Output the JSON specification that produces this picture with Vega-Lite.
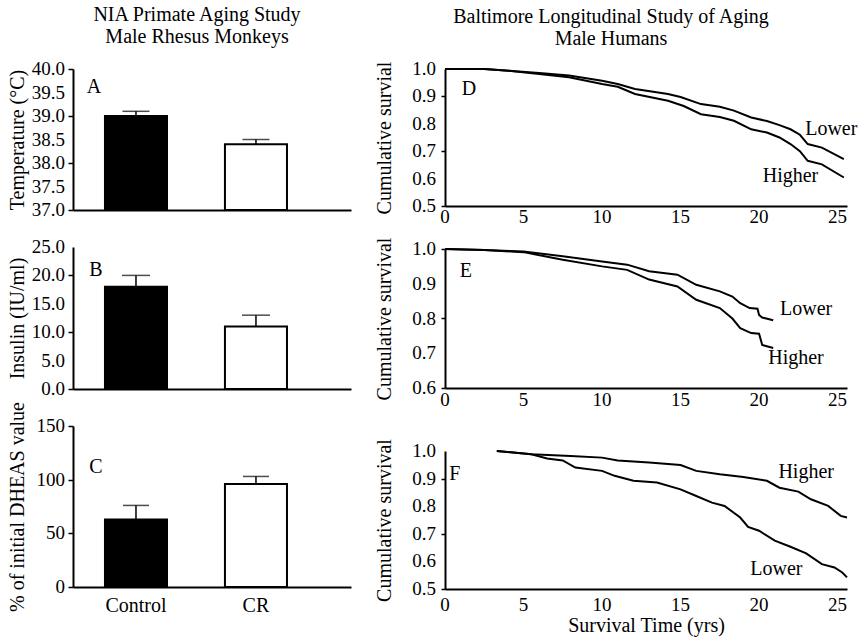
{
  "$schema": "https://vega.github.io/schema/vega-lite/v6.json",
  "padding": {"left": 7, "top": 5, "right": 5, "bottom": 5},
  "background": "white",
  "config": {
    "font": "Liberation Serif",
    "view": {"stroke": null},
    "axis": {"titleFont": "Liberation Serif", "titleFontSize": 20, "titleFontWeight": "normal", "titleColor": "#000", "domainColor": "#000", "domainWidth": 2, "tickColor": "#000", "tickWidth": 1.5, "grid": false, "labels": false},
    "title": {"font": "Liberation Serif", "fontSize": 20, "fontWeight": "normal", "color": "#000"},
    "text": {"font": "Liberation Serif", "fontSize": 20, "color": "#000"}
  },
  "datasets": {
    "barsA": [{"group": "Control", "value": 39.0, "upper": 39.1}, {"group": "CR", "value": 38.4, "upper": 38.5}],
    "barsB": [{"group": "Control", "value": 18.0, "upper": 20.0}, {"group": "CR", "value": 11.0, "upper": 13.0}],
    "barsC": [{"group": "Control", "value": 63, "upper": 76}, {"group": "CR", "value": 96, "upper": 103}],
    "ticksA": [{"v": 37}, {"v": 37.5}, {"v": 38}, {"v": 38.5}, {"v": 39}, {"v": 39.5}, {"v": 40}],
    "ticksB": [{"v": 0}, {"v": 5}, {"v": 10}, {"v": 15}, {"v": 20}, {"v": 25}],
    "ticksC": [{"v": 0}, {"v": 50}, {"v": 100}, {"v": 150}],
    "ticksT": [{"v": 0}, {"v": 5}, {"v": 10}, {"v": 15}, {"v": 20}, {"v": 25}],
    "ticksS5": [{"v": 0.5}, {"v": 0.6}, {"v": 0.7}, {"v": 0.8}, {"v": 0.9}, {"v": 1.0}],
    "ticksS6": [{"v": 0.6}, {"v": 0.7}, {"v": 0.8}, {"v": 0.9}, {"v": 1.0}],
    "linesD": [
      {"grp": "Lower", "t": 0, "s": 1.0}, {"grp": "Lower", "t": 2.5, "s": 1.0}, {"grp": "Lower", "t": 4.06, "s": 0.994}, {"grp": "Lower", "t": 6, "s": 0.985}, {"grp": "Lower", "t": 7.9, "s": 0.976}, {"grp": "Lower", "t": 10, "s": 0.957}, {"grp": "Lower", "t": 11, "s": 0.945}, {"grp": "Lower", "t": 12.1, "s": 0.927}, {"grp": "Lower", "t": 14.2, "s": 0.909}, {"grp": "Lower", "t": 15, "s": 0.898}, {"grp": "Lower", "t": 16.3, "s": 0.872}, {"grp": "Lower", "t": 17.5, "s": 0.862}, {"grp": "Lower", "t": 18.4, "s": 0.848}, {"grp": "Lower", "t": 19.5, "s": 0.823}, {"grp": "Lower", "t": 20.5, "s": 0.81}, {"grp": "Lower", "t": 21.3, "s": 0.795}, {"grp": "Lower", "t": 22.0, "s": 0.78}, {"grp": "Lower", "t": 22.6, "s": 0.76}, {"grp": "Lower", "t": 23.1, "s": 0.726}, {"grp": "Lower", "t": 24.0, "s": 0.713}, {"grp": "Lower", "t": 25.4, "s": 0.671},
      {"grp": "Higher", "t": 0, "s": 1.0}, {"grp": "Higher", "t": 2.5, "s": 1.0}, {"grp": "Higher", "t": 4.06, "s": 0.994}, {"grp": "Higher", "t": 6, "s": 0.982}, {"grp": "Higher", "t": 7.9, "s": 0.97}, {"grp": "Higher", "t": 10, "s": 0.945}, {"grp": "Higher", "t": 11, "s": 0.935}, {"grp": "Higher", "t": 12.1, "s": 0.909}, {"grp": "Higher", "t": 14.2, "s": 0.884}, {"grp": "Higher", "t": 15.2, "s": 0.865}, {"grp": "Higher", "t": 16.3, "s": 0.835}, {"grp": "Higher", "t": 17.5, "s": 0.825}, {"grp": "Higher", "t": 18.4, "s": 0.811}, {"grp": "Higher", "t": 19.5, "s": 0.78}, {"grp": "Higher", "t": 20.5, "s": 0.768}, {"grp": "Higher", "t": 21.3, "s": 0.75}, {"grp": "Higher", "t": 22.0, "s": 0.726}, {"grp": "Higher", "t": 22.6, "s": 0.7}, {"grp": "Higher", "t": 23.1, "s": 0.665}, {"grp": "Higher", "t": 24.0, "s": 0.652}, {"grp": "Higher", "t": 25.4, "s": 0.604}
    ],
    "linesE": [
      {"grp": "Lower", "t": 0, "s": 1.0}, {"grp": "Lower", "t": 2.5, "s": 0.997}, {"grp": "Lower", "t": 5, "s": 0.993}, {"grp": "Lower", "t": 7.5, "s": 0.979}, {"grp": "Lower", "t": 10, "s": 0.964}, {"grp": "Lower", "t": 11.6, "s": 0.955}, {"grp": "Lower", "t": 13, "s": 0.936}, {"grp": "Lower", "t": 14.8, "s": 0.926}, {"grp": "Lower", "t": 16, "s": 0.897}, {"grp": "Lower", "t": 17.5, "s": 0.878}, {"grp": "Lower", "t": 18.3, "s": 0.863}, {"grp": "Lower", "t": 18.8, "s": 0.844}, {"grp": "Lower", "t": 19.4, "s": 0.83}, {"grp": "Lower", "t": 19.9, "s": 0.828}, {"grp": "Lower", "t": 20.0, "s": 0.81}, {"grp": "Lower", "t": 20.2, "s": 0.803}, {"grp": "Lower", "t": 20.9, "s": 0.795},
      {"grp": "Higher", "t": 0, "s": 1.0}, {"grp": "Higher", "t": 2.5, "s": 0.997}, {"grp": "Higher", "t": 5, "s": 0.991}, {"grp": "Higher", "t": 7.5, "s": 0.969}, {"grp": "Higher", "t": 10, "s": 0.95}, {"grp": "Higher", "t": 11.6, "s": 0.94}, {"grp": "Higher", "t": 13, "s": 0.912}, {"grp": "Higher", "t": 14.8, "s": 0.892}, {"grp": "Higher", "t": 16, "s": 0.854}, {"grp": "Higher", "t": 17.5, "s": 0.83}, {"grp": "Higher", "t": 18.3, "s": 0.8}, {"grp": "Higher", "t": 18.8, "s": 0.772}, {"grp": "Higher", "t": 19.5, "s": 0.758}, {"grp": "Higher", "t": 20.0, "s": 0.756}, {"grp": "Higher", "t": 20.1, "s": 0.74}, {"grp": "Higher", "t": 20.2, "s": 0.724}, {"grp": "Higher", "t": 20.9, "s": 0.715}
    ],
    "linesF": [
      {"grp": "Higher", "t": 3.3, "s": 1.0}, {"grp": "Higher", "t": 5.5, "s": 0.988}, {"grp": "Higher", "t": 8, "s": 0.982}, {"grp": "Higher", "t": 10, "s": 0.976}, {"grp": "Higher", "t": 11, "s": 0.966}, {"grp": "Higher", "t": 13, "s": 0.958}, {"grp": "Higher", "t": 15, "s": 0.949}, {"grp": "Higher", "t": 16, "s": 0.928}, {"grp": "Higher", "t": 17.5, "s": 0.916}, {"grp": "Higher", "t": 19, "s": 0.906}, {"grp": "Higher", "t": 20.5, "s": 0.892}, {"grp": "Higher", "t": 21.3, "s": 0.867}, {"grp": "Higher", "t": 22.5, "s": 0.853}, {"grp": "Higher", "t": 23.3, "s": 0.825}, {"grp": "Higher", "t": 24.4, "s": 0.801}, {"grp": "Higher", "t": 25.2, "s": 0.765}, {"grp": "Higher", "t": 25.6, "s": 0.759},
      {"grp": "Lower", "t": 3.3, "s": 1.0}, {"grp": "Lower", "t": 5.5, "s": 0.988}, {"grp": "Lower", "t": 6.5, "s": 0.973}, {"grp": "Lower", "t": 7.5, "s": 0.966}, {"grp": "Lower", "t": 8.3, "s": 0.94}, {"grp": "Lower", "t": 10, "s": 0.928}, {"grp": "Lower", "t": 10.8, "s": 0.91}, {"grp": "Lower", "t": 12, "s": 0.892}, {"grp": "Lower", "t": 13.5, "s": 0.886}, {"grp": "Lower", "t": 15, "s": 0.861}, {"grp": "Lower", "t": 16, "s": 0.837}, {"grp": "Lower", "t": 17, "s": 0.813}, {"grp": "Lower", "t": 17.8, "s": 0.801}, {"grp": "Lower", "t": 18.8, "s": 0.759}, {"grp": "Lower", "t": 19.3, "s": 0.725}, {"grp": "Lower", "t": 20, "s": 0.711}, {"grp": "Lower", "t": 21, "s": 0.675}, {"grp": "Lower", "t": 22, "s": 0.653}, {"grp": "Lower", "t": 23, "s": 0.629}, {"grp": "Lower", "t": 24, "s": 0.59}, {"grp": "Lower", "t": 24.8, "s": 0.578}, {"grp": "Lower", "t": 25.3, "s": 0.56}, {"grp": "Lower", "t": 25.6, "s": 0.542}
    ],
    "textD": [{"label": "D", "t": 1.52, "s": 0.927}, {"label": "Lower", "t": 24.6, "s": 0.781}, {"label": "Higher", "t": 22.0, "s": 0.61}],
    "textE": [{"label": "E", "t": 1.33, "s": 0.937}, {"label": "Lower", "t": 23.0, "s": 0.827}, {"label": "Higher", "t": 22.35, "s": 0.686}],
    "textF": [{"label": "F", "t": 0.63, "s": 0.917}, {"label": "Higher", "t": 23.0, "s": 0.924}, {"label": "Lower", "t": 21.1, "s": 0.572}]
  },
  "bounds": "flush",
  "spacing": 372,
  "hconcat": [
    {
      "bounds": "flush",
      "spacing": 37,
      "vconcat": [
        {
          "width": 278, "height": 141,
          "title": {"text": ["NIA Primate Aging Study", "Male Rhesus Monkeys"], "anchor": "middle", "frame": "group", "dx": -15, "offset": 13, "lineHeight": 22, "font": "Liberation Serif"},
          "encoding": {"x": {"field": "group", "type": "nominal", "scale": {"domain": ["Control", "CR"], "paddingInner": 0.483, "paddingOuter": 0.4, "align": 0.333}, "axis": {"labels": false, "ticks": false, "title": null}}},
          "layer": [
            {"data": {"name": "barsA"}, "mark": {"type": "rule", "color": "#000", "strokeWidth": 1.5}, "encoding": {"y": {"field": "value", "type": "quantitative", "scale": {"domain": [37, 40], "nice": false, "zero": false}, "axis": {"values": [37, 37.5, 38, 38.5, 39, 39.5, 40], "labels": false, "tickSize": 5, "titlePadding": 40, "title": "Temperature (°C)"}}, "y2": {"field": "upper"}}},
            {"data": {"name": "barsA"}, "mark": {"type": "tick", "color": "#000", "size": 27, "thickness": 1.5}, "encoding": {"y": {"field": "upper", "type": "quantitative"}}},
            {"data": {"name": "barsA"}, "mark": {"type": "bar", "stroke": "#000", "strokeWidth": 2}, "encoding": {"y": {"field": "value", "type": "quantitative"}, "y2": {"datum": 37}, "fill": {"field": "group", "type": "nominal", "scale": {"domain": ["Control", "CR"], "range": ["#000000", "#ffffff"]}, "legend": null}}},
            {"data": {"name": "ticksA"}, "mark": {"type": "text", "align": "right", "baseline": "middle", "fontSize": 19, "dx": -40}, "encoding": {"x": {"datum": "Control", "type": "nominal", "bandPosition": 0}, "y": {"field": "v", "type": "quantitative"}, "text": {"field": "v", "type": "quantitative", "format": ".1f"}}},
            {"data": {"values": [{"label": "A", "group": "Control", "value": 39.62}]}, "mark": {"type": "text", "dx": -11, "align": "center", "baseline": "middle"}, "encoding": {"x": {"field": "group", "type": "nominal", "bandPosition": 0}, "y": {"field": "value", "type": "quantitative"}, "text": {"field": "label"}}}
          ]
        },
        {
          "width": 278, "height": 142,
          "encoding": {"x": {"field": "group", "type": "nominal", "scale": {"domain": ["Control", "CR"], "paddingInner": 0.483, "paddingOuter": 0.4, "align": 0.333}, "axis": {"labels": false, "ticks": false, "title": null}}},
          "layer": [
            {"data": {"name": "barsB"}, "mark": {"type": "rule", "color": "#000", "strokeWidth": 1.5}, "encoding": {"y": {"field": "value", "type": "quantitative", "scale": {"domain": [0, 25], "nice": false}, "axis": {"values": [0, 5, 10, 15, 20, 25], "labels": false, "tickSize": 5, "titlePadding": 40, "title": "Insulin (IU/ml)"}}, "y2": {"field": "upper"}}},
            {"data": {"name": "barsB"}, "mark": {"type": "tick", "color": "#000", "size": 28, "thickness": 1.5}, "encoding": {"y": {"field": "upper", "type": "quantitative"}}},
            {"data": {"name": "barsB"}, "mark": {"type": "bar", "stroke": "#000", "strokeWidth": 2}, "encoding": {"y": {"field": "value", "type": "quantitative"}, "y2": {"datum": 0}, "fill": {"field": "group", "type": "nominal", "scale": {"domain": ["Control", "CR"], "range": ["#000000", "#ffffff"]}, "legend": null}}},
            {"data": {"name": "ticksB"}, "mark": {"type": "text", "align": "right", "baseline": "middle", "fontSize": 19, "dx": -40}, "encoding": {"x": {"datum": "Control", "type": "nominal", "bandPosition": 0}, "y": {"field": "v", "type": "quantitative"}, "text": {"field": "v", "type": "quantitative", "format": ".1f"}}},
            {"data": {"values": [{"label": "B", "group": "Control", "value": 20.95}]}, "mark": {"type": "text", "dx": -9, "align": "center", "baseline": "middle"}, "encoding": {"x": {"field": "group", "type": "nominal", "bandPosition": 0}, "y": {"field": "value", "type": "quantitative"}, "text": {"field": "label"}}}
          ]
        },
        {
          "width": 278, "height": 161,
          "encoding": {"x": {"field": "group", "type": "nominal", "scale": {"domain": ["Control", "CR"], "paddingInner": 0.483, "paddingOuter": 0.4, "align": 0.333}, "axis": {"labels": false, "ticks": false, "title": null}}},
          "layer": [
            {"data": {"name": "barsC"}, "mark": {"type": "rule", "color": "#000", "strokeWidth": 1.5}, "encoding": {"y": {"field": "value", "type": "quantitative", "scale": {"domain": [0, 150], "nice": false}, "axis": {"values": [0, 50, 100, 150], "labels": false, "tickSize": 5, "titlePadding": 40, "title": "% of initial DHEAS value"}}, "y2": {"field": "upper"}}},
            {"data": {"name": "barsC"}, "mark": {"type": "tick", "color": "#000", "size": 26, "thickness": 1.5}, "encoding": {"y": {"field": "upper", "type": "quantitative"}}},
            {"data": {"name": "barsC"}, "mark": {"type": "bar", "stroke": "#000", "strokeWidth": 2}, "encoding": {"y": {"field": "value", "type": "quantitative"}, "y2": {"datum": 0}, "fill": {"field": "group", "type": "nominal", "scale": {"domain": ["Control", "CR"], "range": ["#000000", "#ffffff"]}, "legend": null}}},
            {"data": {"name": "barsC"}, "mark": {"type": "text", "align": "center", "baseline": "top", "fontSize": 20, "dy": 9}, "encoding": {"y": {"datum": 0, "type": "quantitative"}, "text": {"field": "group"}}},
            {"data": {"name": "ticksC"}, "mark": {"type": "text", "align": "right", "baseline": "middle", "fontSize": 19, "dx": -40}, "encoding": {"x": {"datum": "Control", "type": "nominal", "bandPosition": 0}, "y": {"field": "v", "type": "quantitative"}, "text": {"field": "v", "type": "quantitative", "format": "d"}}},
            {"data": {"values": [{"label": "C", "group": "Control", "value": 112}]}, "mark": {"type": "text", "dx": -9, "align": "center", "baseline": "middle"}, "encoding": {"x": {"field": "group", "type": "nominal", "bandPosition": 0}, "y": {"field": "value", "type": "quantitative"}, "text": {"field": "label"}}}
          ]
        }
      ]
    },
    {
      "bounds": "flush",
      "spacing": 43,
      "vconcat": [
        {
          "width": 402, "height": 137,
          "title": {"text": ["Baltimore Longitudinal Study of Aging", "Male Humans"], "anchor": "middle", "frame": "group", "dx": -35, "offset": 11, "lineHeight": 22, "font": "Liberation Serif"},
          "layer": [
            {"data": {"name": "linesD"}, "mark": {"type": "line", "color": "#000", "strokeWidth": 2}, "encoding": {"x": {"field": "t", "type": "quantitative", "scale": {"domain": [0, 25.6], "nice": false, "zero": false}, "axis": {"values": [0, 5, 10, 15, 20, 25], "labels": false, "ticks": false, "title": null}}, "y": {"field": "s", "type": "quantitative", "scale": {"domain": [0.5, 1.0], "nice": false, "zero": false}, "axis": {"values": [0.5, 0.6, 0.7, 0.8, 0.9, 1.0], "labels": false, "tickSize": 4, "titlePadding": 46, "title": "Cumulative survial"}}, "detail": {"field": "grp"}}},
            {"data": {"name": "ticksS5"}, "mark": {"type": "text", "align": "right", "baseline": "middle", "fontSize": 19, "dx": -9}, "encoding": {"x": {"datum": 0, "type": "quantitative"}, "y": {"field": "v", "type": "quantitative"}, "text": {"field": "v", "type": "quantitative", "format": ".1f"}}},
            {"data": {"name": "ticksT"}, "mark": {"type": "text", "align": "center", "baseline": "top", "fontSize": 19, "dy": 2}, "encoding": {"x": {"field": "v", "type": "quantitative"}, "y": {"datum": 0.5, "type": "quantitative"}, "text": {"field": "v", "type": "quantitative", "format": "d"}}},
            {"data": {"name": "textD"}, "mark": {"type": "text", "align": "center", "baseline": "middle"}, "encoding": {"x": {"field": "t", "type": "quantitative"}, "y": {"field": "s", "type": "quantitative"}, "text": {"field": "label"}}}
          ]
        },
        {
          "bounds": "flush",
          "spacing": 63,
          "vconcat": [
            {
              "width": 402, "height": 139,
              "layer": [
                {"data": {"name": "linesE"}, "mark": {"type": "line", "color": "#000", "strokeWidth": 2}, "encoding": {"x": {"field": "t", "type": "quantitative", "scale": {"domain": [0, 25.6], "nice": false, "zero": false}, "axis": {"values": [0, 5, 10, 15, 20, 25], "labels": false, "ticks": false, "title": null}}, "y": {"field": "s", "type": "quantitative", "scale": {"domain": [0.6, 1.0], "nice": false, "zero": false}, "axis": {"values": [0.6, 0.7, 0.8, 0.9, 1.0], "labels": false, "tickSize": 4, "titlePadding": 46, "title": "Cumulative survival"}}, "detail": {"field": "grp"}}},
                {"data": {"name": "ticksS6"}, "mark": {"type": "text", "align": "right", "baseline": "middle", "fontSize": 19, "dx": -9}, "encoding": {"x": {"datum": 0, "type": "quantitative"}, "y": {"field": "v", "type": "quantitative"}, "text": {"field": "v", "type": "quantitative", "format": ".1f"}}},
                {"data": {"name": "ticksT"}, "mark": {"type": "text", "align": "center", "baseline": "top", "fontSize": 19, "dy": 3}, "encoding": {"x": {"field": "v", "type": "quantitative"}, "y": {"datum": 0.6, "type": "quantitative"}, "text": {"field": "v", "type": "quantitative", "format": "d"}}},
                {"data": {"name": "textE"}, "mark": {"type": "text", "align": "center", "baseline": "middle"}, "encoding": {"x": {"field": "t", "type": "quantitative"}, "y": {"field": "s", "type": "quantitative"}, "text": {"field": "label"}}}
              ]
            },
            {
              "width": 402, "height": 138,
              "layer": [
                {"data": {"name": "linesF"}, "mark": {"type": "line", "color": "#000", "strokeWidth": 2}, "encoding": {"x": {"field": "t", "type": "quantitative", "scale": {"domain": [0, 25.6], "nice": false, "zero": false}, "axis": {"values": [0, 5, 10, 15, 20, 25], "labels": false, "ticks": false, "titlePadding": 26, "title": "Survival Time (yrs)"}}, "y": {"field": "s", "type": "quantitative", "scale": {"domain": [0.5, 1.0], "nice": false, "zero": false}, "axis": {"values": [0.5, 0.6, 0.7, 0.8, 0.9, 1.0], "labels": false, "tickSize": 4, "titlePadding": 46, "title": "Cumulative survival"}}, "detail": {"field": "grp"}}},
                {"data": {"name": "ticksS5"}, "mark": {"type": "text", "align": "right", "baseline": "middle", "fontSize": 19, "dx": -9}, "encoding": {"x": {"datum": 0, "type": "quantitative"}, "y": {"field": "v", "type": "quantitative"}, "text": {"field": "v", "type": "quantitative", "format": ".1f"}}},
                {"data": {"name": "ticksT"}, "mark": {"type": "text", "align": "center", "baseline": "top", "fontSize": 19, "dy": 7}, "encoding": {"x": {"field": "v", "type": "quantitative"}, "y": {"datum": 0.5, "type": "quantitative"}, "text": {"field": "v", "type": "quantitative", "format": "d"}}},
                {"data": {"name": "textF"}, "mark": {"type": "text", "align": "center", "baseline": "middle"}, "encoding": {"x": {"field": "t", "type": "quantitative"}, "y": {"field": "s", "type": "quantitative"}, "text": {"field": "label"}}}
              ]
            }
          ]
        }
      ]
    }
  ]
}
